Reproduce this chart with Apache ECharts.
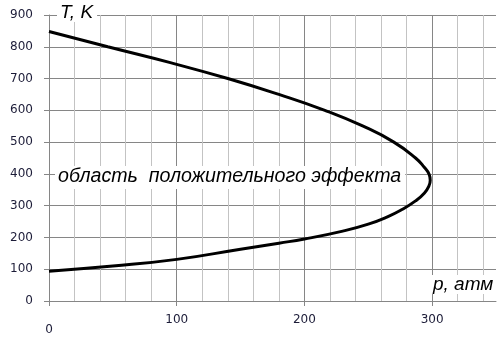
<!DOCTYPE html>
<html><head><meta charset="utf-8">
<script src="https://cdn.jsdelivr.net/npm/echarts@6/dist/echarts.min.js"></script>
<style>html,body{margin:0;padding:0;background:#fff}#c{width:503px;height:337px}</style>
</head><body><div id="c"></div>
<script>
// curve: pressure p (atm) and temperature T (K) (upper branch, then lower branch)
const pValues = [0, 46, 95, 140, 180, 216, 246, 270, 287, 294, 297.5, 298.5, 297.5, 294, 287, 276, 265, 250, 230, 200, 180, 150, 100, 50, 0];
const tValues = [848, 800, 750, 700, 650, 600, 550, 500, 450, 420, 400, 380, 362, 340, 315, 287, 265, 242, 220, 195, 182, 163, 131, 110, 94];
const yTicks = [0, 100, 200, 300, 400, 500, 600, 700, 800, 900];
const xTicks = [0, 100, 200, 300];
const xName = 'p, атм';
const yName = 'T, K';
const note = 'область  положительного эффекта';

const data = pValues.map((p, i) => [p, tValues[i]]);
const labelColor = '#1c1c38';
const chart = echarts.init(document.getElementById('c'), null, {renderer: 'canvas'});
chart.setOption({
  animation: false,
  grid: {left: 49, right: 7, top: 15, bottom: 36},
  xAxis: [
    {type: 'value', min: 0, max: 350, interval: 20,
     axisLine: {show: false}, axisTick: {show: false}, axisLabel: {show: false},
     splitLine: {show: true, showMaxLine: false, lineStyle: {width: 1, color: ['#868686', '#c3c3c3', '#c3c3c3', '#c3c3c3', '#c3c3c3']}}},
    {type: 'value', min: 0, max: 350, interval: 100, position: 'bottom',
     axisLine: {show: true, onZero: false, lineStyle: {color: '#868686'}},
     axisTick: {show: true, length: 5, lineStyle: {color: '#868686'}},
     splitLine: {show: false},
     axisLabel: {margin: 13, color: labelColor, fontSize: 12, fontFamily: 'DejaVu Sans',
       showMaxLabel: false,
       formatter: v => xTicks.indexOf(v) < 0 ? '' : (v === 0 ? '{z|0}' : String(v)),
       rich: {z: {padding: [10, 0, 0, 0], color: labelColor, fontSize: 12, fontFamily: 'DejaVu Sans'}}}}
  ],
  yAxis: {type: 'value', min: yTicks[0], max: yTicks[yTicks.length - 1], interval: 100,
    axisLine: {show: true, lineStyle: {color: '#868686'}},
    axisTick: {show: true, length: 5, lineStyle: {color: '#868686'}},
    splitLine: {show: true, lineStyle: {color: '#868686'}},
    axisLabel: {margin: 16, color: labelColor, fontSize: 12, fontFamily: 'DejaVu Sans'}},
  series: [{type: 'line', xAxisIndex: 0, data: data, smooth: 0.5, symbol: 'none',
    lineStyle: {color: '#000', width: 3}}],
  graphic: [
    {type: 'text', left: 57, top: 3, z: 100,
     style: {text: yName, font: 'italic 19px "Liberation Sans"', fill: '#000', backgroundColor: '#fff', padding: [0, 4, 0, 3]}},
    {type: 'text', left: 430, top: 275, z: 100,
     style: {text: xName, font: 'italic 19px "Liberation Sans"', fill: '#000', backgroundColor: '#fff', padding: [0, 4, 0, 3]}},
    {type: 'text', left: 55, top: 166, z: 100,
     style: {text: note, font: 'italic 19.6px "Liberation Sans"', fill: '#000', backgroundColor: '#fff', padding: [1, 4, 2, 3]}}
  ]
});
</script></body></html>
